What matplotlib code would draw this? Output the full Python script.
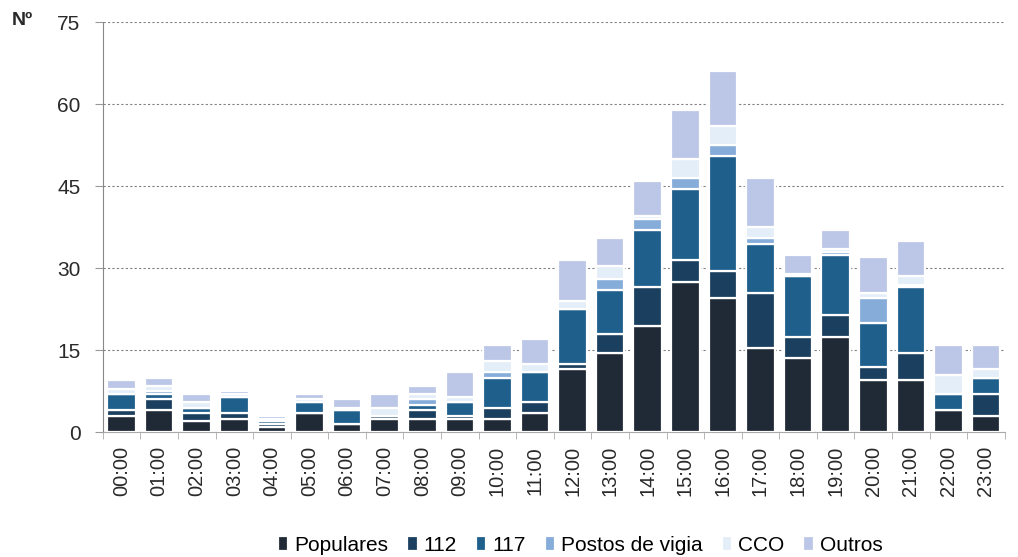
import matplotlib
matplotlib.use("Agg")
import matplotlib.pyplot as plt
import numpy as np

hours = [f"{h:02d}:00" for h in range(24)]

populares = [3, 4, 2, 2.5, 1, 3.5, 1.5, 2.5, 2.5, 2.5, 2.5, 3.5,
             11.5, 14.5, 19.5, 27.5, 24.5, 15.5, 13.5, 17.5, 9.5, 9.5, 4, 3]
n112 = [1, 2, 1.5, 1, 0.5, 0, 0, 0.5, 1.5, 0.5, 2, 2,
        1, 3.5, 7, 4, 5, 10, 4, 4, 2.5, 5, 0, 4]
n117 = [3, 1, 1, 3, 0.5, 2, 2.5, 0, 1, 2.5, 5.5, 5.5,
        10, 8, 10.5, 13, 21, 9, 11, 11, 8, 12, 3, 3]
postos = [0, 0.5, 0, 0, 0, 0, 0, 0, 1, 0, 1, 0,
          0, 2, 2, 2, 2, 1, 0, 0.5, 4.5, 0.5, 0, 0]
cco = [1, 1, 1, 0.5, 0.5, 0.5, 0.5, 1.5, 1, 1, 2, 1.5,
       1.5, 2.5, 0.5, 3.5, 3.5, 2, 0.5, 0.5, 1, 1.5, 3.5, 1.5]
outros = [1.5, 1.5, 1.5, 0.5, 0.5, 1, 1.5, 2.5, 1.5, 4.5, 3, 4.5,
          7.5, 5, 6.5, 9, 10, 9, 3.5, 3.5, 6.5, 6.5, 5.5, 4.5]

series = ["Populares", "112", "117", "Postos de vigia", "CCO", "Outros"]
values = [populares, n112, n117, postos, cco, outros]
colors = ["#202a36", "#1b3f5f", "#1e5f8c", "#86acd9", "#e4eef8", "#bcc6e6"]

y_ticks = [0, 15, 30, 45, 60, 75]

plt.rcParams["font.family"] = ["Liberation Sans", "DejaVu Sans"]

fig = plt.figure(figsize=(10.18, 5.57), dpi=100)
ax = fig.add_axes([0.101, 0.224, 0.886, 0.736])

x = np.arange(len(hours))
bottom = np.zeros(len(hours))
handles = []
for name, vals, col in zip(series, values, colors):
    v = np.array(vals, dtype=float)
    b = ax.bar(x, v, bottom=bottom, width=0.76, color=col,
               edgecolor="white", linewidth=1.6, label=name, zorder=3)
    handles.append(b)
    bottom += v

ax.set_xlim(-0.5, len(hours) - 0.5)
ax.set_ylim(0, 75)
ax.set_yticks(y_ticks)
ax.set_yticklabels([str(t) for t in y_ticks], fontsize=15, color="#2a2a2a")
ax.yaxis.grid(True, linestyle=(0, (2, 2)), color="#808080", linewidth=0.8, zorder=0)
ax.tick_params(axis="y", length=6, color="#999999", pad=10)

ax.set_xticks(x)
ax.set_xticklabels(hours, rotation=90, fontsize=14.5, color="#2a2a2a")
ax.set_xticks(np.arange(-0.5, len(hours)), minor=True)
ax.tick_params(axis="x", which="major", length=0, pad=10)
ax.tick_params(axis="x", which="minor", length=5, color="#aaaaaa")

for side in ("top", "right"):
    ax.spines[side].set_visible(False)
ax.spines["left"].set_color("#888888")
ax.spines["bottom"].set_color("#aaaaaa")

fig.text(0.012, 0.955, "Nº", fontsize=14, fontweight="bold", color="#2a2a2a")

leg = fig.legend(handles=handles, labels=series, loc="lower center",
                 bbox_to_anchor=(0.57, -0.03), ncol=6, frameon=False,
                 fontsize=15, handlelength=0.5, handleheight=0.7,
                 handletextpad=0.3, columnspacing=0.9)

fig.savefig("out.png", dpi=100)
